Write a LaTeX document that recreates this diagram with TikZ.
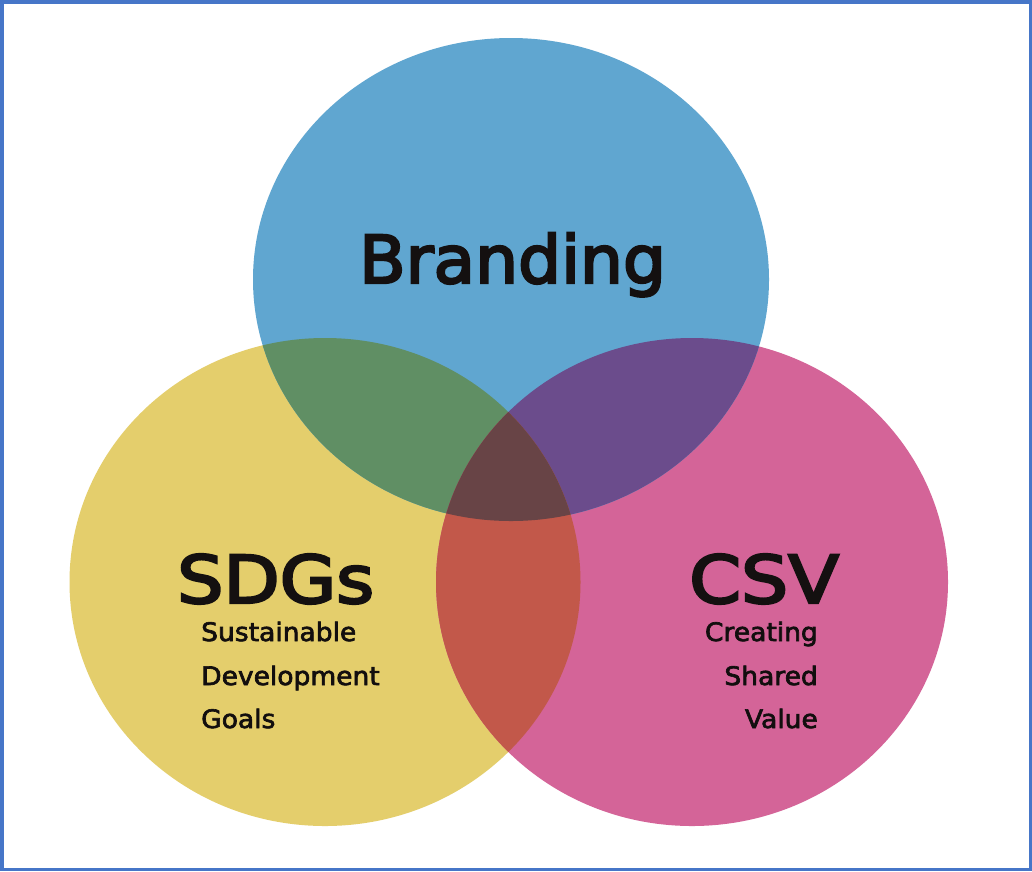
\documentclass[tikz,border=0pt]{standalone}
\usepackage{fontspec}
\setmainfont{DejaVu Sans}
\newfontfamily\heavy[FakeBold=3.5]{DejaVu Sans}
\newfontfamily\medium[FakeBold=2.5]{DejaVu Sans}
\definecolor{cblue}{RGB}{96,166,208}
\definecolor{cyellow}{RGB}{228,206,108}
\definecolor{cpink}{RGB}{212,100,152}
\definecolor{cgreen}{RGB}{96,143,100}
\definecolor{cpurple}{RGB}{107,76,140}
\definecolor{cred}{RGB}{194,88,74}
\definecolor{ccenter}{RGB}{104,68,70}
\definecolor{cframe}{RGB}{70,118,200}
\definecolor{ctext}{RGB}{20,16,16}
\tikzset{
  bigtitle/.style={font=\heavy\fontsize{66}{70}\selectfont, text=ctext, inner sep=0pt, anchor=base west},
  subtext/.style={font=\medium\fontsize{25.5}{28}\selectfont, text=ctext!90!black, inner sep=0pt, xscale=1.04},
}
\begin{document}
\begin{tikzpicture}[x=1pt,y=-1pt]
\useasboundingbox (0,0) rectangle (1032,871);
\fill[white] (0,0) rectangle (1032,871);
\coordinate (B) at (511,279.5);
\coordinate (Y) at (325,582);
\coordinate (P) at (692,582);
\def\blueell{(B) ellipse [x radius=258, y radius=241.5]}
\def\yellowell{(Y) ellipse [x radius=255.5, y radius=244]}
\def\pinkell{(P) ellipse [x radius=256, y radius=244]}
\fill[cyellow] \yellowell;
\fill[cpink] \pinkell;
\fill[cblue] \blueell;
\begin{scope}
  \clip \blueell;
  \fill[cgreen] \yellowell;
  \fill[cpurple] \pinkell;
\end{scope}
\begin{scope}
  \clip \yellowell;
  \fill[cred] \pinkell;
  \clip \blueell;
  \fill[ccenter] \pinkell;
\end{scope}
\draw[cframe, line width=3.5pt] (1.75,1.75) rectangle (1030.25,869.25);
\node[bigtitle, xscale=1.027] (branding) at (359,283) {Branding};
\node[bigtitle, xscale=1.105] (sdgs) at (177,603) {SDGs};
\node[bigtitle, xscale=1.125] (csv) at (689,603) {CSV};
\node[subtext, anchor=base west] (s1) at (201,641) {Sustainable};
\node[subtext, anchor=base west] (s2) at (201,685) {Development};
\node[subtext, anchor=base west] (s3) at (201,728) {Goals};
\node[subtext, anchor=base east] (c1) at (818,641) {Creating};
\node[subtext, anchor=base east] (c2) at (818,685) {Shared};
\node[subtext, anchor=base east] (c3) at (818,728) {Value};
\end{tikzpicture}
\end{document}
